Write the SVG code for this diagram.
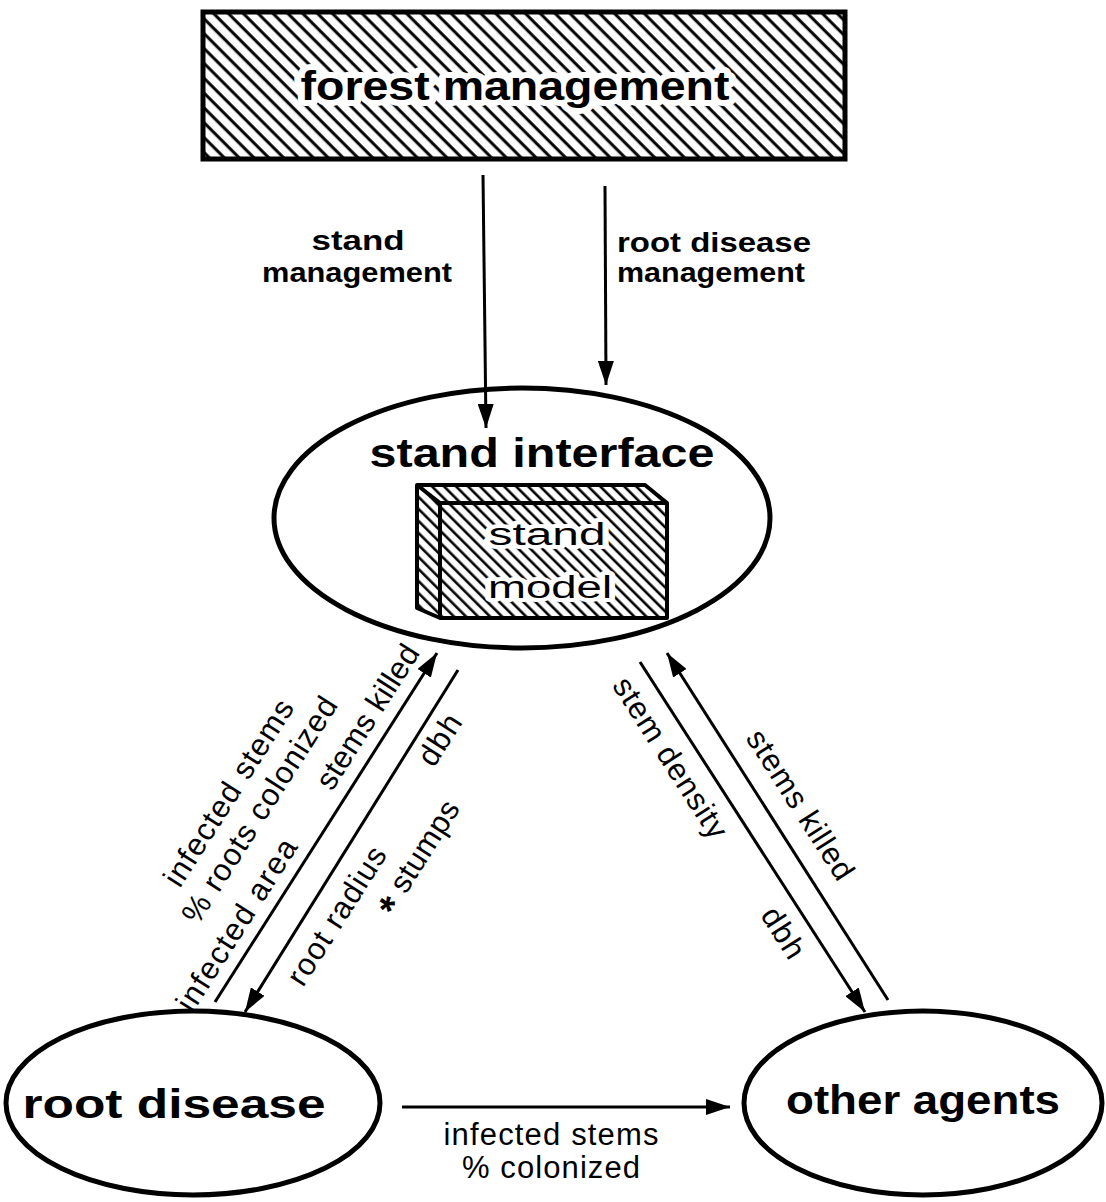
<svg xmlns="http://www.w3.org/2000/svg" width="1106" height="1202" viewBox="0 0 1106 1202">
<style>
.bg{fill:#ffffff}
.title{font-family:"Liberation Sans",Arial,sans-serif;font-weight:bold;font-size:40px;fill:#000}
.toplbl{font-family:"Liberation Sans",Arial,sans-serif;font-weight:bold;font-size:28px;fill:#000}
.lbl{font-family:"Liberation Sans",Arial,sans-serif;font-size:31px;fill:#000}
.knock{stroke:#fff;stroke-width:12px;stroke-linejoin:round;paint-order:stroke}
.edge{stroke:#000;stroke-width:3;fill:none}
.node{stroke:#000;stroke-width:5;fill:none}
</style>
<defs>
<pattern id="hatch" patternUnits="userSpaceOnUse" width="10.5" height="10.5" patternTransform="rotate(-45)">
<rect width="10.5" height="10.5" fill="#fff"/>
<line x1="5" y1="-1" x2="5" y2="12" stroke="#000" stroke-width="3"/>
</pattern>
<pattern id="hatch2" patternUnits="userSpaceOnUse" width="8.5" height="8.5" patternTransform="rotate(-45)">
<rect width="8.5" height="8.5" fill="#fff"/>
<line x1="4" y1="-1" x2="4" y2="10" stroke="#000" stroke-width="2.6"/>
</pattern>
<marker id="arr" markerUnits="userSpaceOnUse" markerWidth="24" markerHeight="16" refX="24" refY="8" orient="auto">
<path d="M0,0 L24,8 L0,16 z" fill="#000"/>
</marker>
</defs>
<rect class="bg" x="0" y="0" width="1106" height="1202"/>

<g id="forest-management">
<rect x="203" y="12" width="642" height="147" fill="url(#hatch)" stroke="#000" stroke-width="5"/>
<text class="title knock" x="515" y="100" text-anchor="middle" textLength="429" lengthAdjust="spacingAndGlyphs">forest management</text>
</g>

<g id="stand-interface">
<ellipse class="node" cx="522" cy="518" rx="248" ry="130"/>
<text class="title" x="542" y="467" text-anchor="middle" font-size="37" textLength="345" lengthAdjust="spacingAndGlyphs">stand interface</text>
</g>

<g id="stand-model">
<polygon points="417,485 645,485 667,503 667,618 440,618 417,608" fill="url(#hatch2)" stroke="#000" stroke-width="4" stroke-linejoin="round"/>
<polyline points="417,485 440,503 667,503" fill="none" stroke="#000" stroke-width="4"/>
<line x1="440" y1="503" x2="440" y2="618" stroke="#000" stroke-width="4"/>
<text class="lbl knock" x="547" y="545" text-anchor="middle" font-size="33" textLength="117" lengthAdjust="spacingAndGlyphs" style="stroke-width:8px">stand</text>
<text class="lbl knock" x="550" y="598" text-anchor="middle" font-size="33" textLength="124" lengthAdjust="spacingAndGlyphs" style="stroke-width:8px">model</text>
</g>

<g id="root-disease">
<ellipse class="node" cx="193" cy="1103" rx="187" ry="92"/>
<text class="title" x="174" y="1118" text-anchor="middle" textLength="303" lengthAdjust="spacingAndGlyphs">root disease</text>
</g>

<g id="other-agents">
<ellipse class="node" cx="923" cy="1103" rx="179" ry="92"/>
<text class="title" x="923" y="1114" text-anchor="middle" textLength="274" lengthAdjust="spacingAndGlyphs">other agents</text>
</g>

<g id="connectors">
<line class="edge" x1="483" y1="175" x2="486" y2="428" marker-end="url(#arr)"/>
<line class="edge" x1="605" y1="186" x2="606" y2="385" marker-end="url(#arr)"/>
<line class="edge" x1="215" y1="1002" x2="437" y2="653" marker-end="url(#arr)"/>
<line class="edge" x1="458" y1="670" x2="245" y2="1012" marker-end="url(#arr)"/>
<line class="edge" x1="640" y1="662" x2="865" y2="1012" marker-end="url(#arr)"/>
<line class="edge" x1="888" y1="1000" x2="667" y2="653" marker-end="url(#arr)"/>
<line class="edge" x1="402" y1="1107" x2="730" y2="1107" marker-end="url(#arr)"/>
</g>

<g id="labels">
<text class="toplbl" x="358" y="250" text-anchor="middle" textLength="93" lengthAdjust="spacingAndGlyphs">stand</text>
<text class="toplbl" x="357" y="282" text-anchor="middle" textLength="190" lengthAdjust="spacingAndGlyphs">management</text>
<text class="toplbl" x="617" y="252" textLength="194" lengthAdjust="spacingAndGlyphs">root disease</text>
<text class="toplbl" x="617" y="282" textLength="188" lengthAdjust="spacingAndGlyphs">management</text>

<text class="lbl" transform="translate(229,793) rotate(-57.5)" y="10" text-anchor="middle" textLength="215">infected stems</text>
<text class="lbl" transform="translate(260,810) rotate(-57.5)" y="10" text-anchor="middle" textLength="262">% roots colonized</text>
<text class="lbl" transform="translate(237,925) rotate(-57.5)" y="10" text-anchor="middle" textLength="198">infected area</text>
<text class="lbl" transform="translate(368,717) rotate(-57.5)" y="10" text-anchor="middle" textLength="165">stems killed</text>
<text class="lbl" transform="translate(440,740) rotate(-57.5)" y="10" text-anchor="middle" textLength="55">dbh</text>
<text class="lbl" transform="translate(337,916) rotate(-57.5)" y="10" text-anchor="middle" textLength="158">root radius</text>
<text class="lbl" transform="translate(418,857) rotate(-57.5)" y="10" text-anchor="middle" textLength="128"><tspan font-weight="bold" font-size="40" dy="9">*</tspan><tspan dy="-9"> stumps</tspan></text>

<text class="lbl" transform="translate(670,758) rotate(57.3)" y="10" text-anchor="middle" textLength="185">stem density</text>
<text class="lbl" transform="translate(800,805) rotate(57.3)" y="10" text-anchor="middle" textLength="172">stems killed</text>
<text class="lbl" transform="translate(783,933) rotate(57.3)" y="10" text-anchor="middle" textLength="55">dbh</text>

<text class="lbl" x="551" y="1145" text-anchor="middle" textLength="215">infected stems</text>
<text class="lbl" x="551" y="1178" text-anchor="middle" textLength="178">% colonized</text>
</g>
</svg>
